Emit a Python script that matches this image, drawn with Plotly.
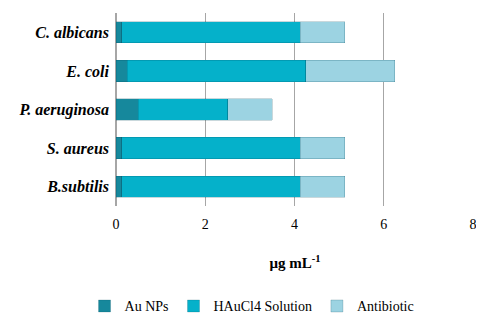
import plotly.graph_objects as go

categories = ["C. albicans", "E. coli", "P. aeruginosa", "S. aureus", "B.subtilis"]
au_nps = [0.125, 0.25, 0.5, 0.125, 0.125]
haucl4 = [4, 4, 2, 4, 4]
antibiotic = [1, 2, 1, 1, 1]
x_ticks = [0, 2, 4, 6, 8]

series = [
    ("Au NPs", au_nps, "#16889C"),
    ("HAuCl4 Solution", haucl4, "#05B1CA"),
    ("Antibiotic", antibiotic, "#9CD3E2"),
]

fig = go.Figure()
for name, vals, col in series:
    fig.add_trace(go.Bar(
        y=categories, x=vals, name=name, orientation="h",
        marker=dict(color=col, line=dict(color="rgba(0,70,90,0.35)", width=0.6)),
    ))

ylabels = ["<b><i>%s</i></b>" % c for c in categories]

fig.update_layout(
    barmode="stack",
    bargap=0.45,
    width=484, height=320,
    margin=dict(l=108, r=18, t=5, b=115),
    paper_bgcolor="white", plot_bgcolor="white",
    font=dict(family="Liberation Serif", size=14, color="black"),
    showlegend=True,
    legend=dict(orientation="h", x=0.38, xanchor="center", y=-0.52, yanchor="middle",
                font=dict(family="Liberation Serif", size=14), traceorder="normal"),
    xaxis=dict(range=[0, 8.02], tickvals=x_ticks, showgrid=True, gridcolor="#A6A6A6",
               gridwidth=1, zeroline=True, zerolinecolor="#A6A6A6",
               tickfont=dict(family="Liberation Serif", size=14), ticks="", ticklabelstandoff=8,
               title=dict(text="<b>μg mL<sup>-1</sup></b>", standoff=26,
                          font=dict(family="Liberation Serif", size=15))),
    yaxis=dict(autorange="reversed", tickvals=categories, ticktext=ylabels,
               tickfont=dict(family="Liberation Serif", size=16), ticks="",
               ticklabelstandoff=6, showgrid=False),
)

fig.write_html("out.html")
